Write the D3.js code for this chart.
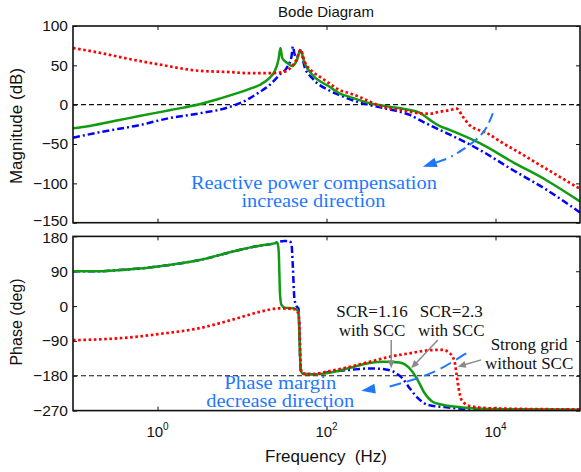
<!DOCTYPE html>
<html>
<head>
<meta charset="utf-8">
<script src="https://cdn.jsdelivr.net/npm/d3@7"></script>
<style>
  body { margin: 0; background: #fff; }
  svg { display: block; }
</style>
</head>
<body>
<div id="chart"></div>
<script>
// magnitude (dB), frequency in Hz
const magFreqStrong = [0.1, 0.206, 0.466, 1.06, 3.14, 7.1, 12.3, 21.2, 32, 38.5, 44, 49.3, 55, 68, 82, 108, 142, 187, 245, 323, 424, 556, 731, 963, 1260, 1660, 2170, 2860, 3470, 4090, 4950, 7900, 12100, 19200, 30400, 43600, 69600, 1e5];
const magStrong = [72, 66, 58, 51, 43, 41.5, 40, 40, 42, 48, 57, 70, 55, 42, 36, 27, 18.7, 14.5, 10, 4, -1.3, -4.6, -6.7, -9, -11, -11.5, -9, -7, -5, -15, -26, -36, -48.6, -61, -74, -84, -97, -107];

const magFreqScr23 = [0.1, 0.157, 0.355, 0.61, 1.39, 3.14, 5.4, 12.3, 16.1, 21.2, 24.2, 27, 28.5, 30, 34.4, 39.5, 44, 49.3, 55, 68, 108, 142, 187, 323, 556, 963, 1260, 1660, 2170, 2860, 6520, 16000, 40000, 1e5];
const magScr23 = [-30, -27, -19.5, -14.5, -7, 0.5, 7.6, 20, 25, 34, 42, 57, 72, 59, 53, 49, 55, 69, 53, 38, 23, 14.5, 10, 2, -2.5, -6.7, -10, -19, -27, -32, -49, -73, -96, -123];

const magFreqScr116 = [0.1, 0.206, 0.61, 1.39, 3.14, 7.1, 12.3, 16.1, 21.2, 27.8, 34.4, 38.5, 40, 41.7, 44.1, 49.3, 55, 68, 108, 142, 187, 323, 556, 731, 963, 1260, 1660, 2630, 6520, 16000, 40000, 1e5];
const magScr116 = [-42, -35, -26, -17, -11, -3, 8, 16, 25, 38, 48, 61, 74, 65, 59, 69, 48, 33.5, 18, 12.3, 7, -0.4, -6, -9, -13, -19.4, -26, -36, -57.5, -83, -108, -137];

// phase (deg)
const phFreqStrong = [0.1, 0.206, 0.466, 1.06, 3.14, 9.3, 16.1, 27.8, 41.7, 46.6, 48, 49.3, 51, 55, 68, 108, 187, 323, 556, 963, 1660, 2360, 2860, 3280, 3470, 3660, 3980, 4950, 8580, 1e5];
const phStrong = [-88, -86, -81, -72, -57, -30, -15, -6, -8, -20, -60, -150, -172, -176, -176, -168, -157, -144, -131, -122, -114, -113, -121, -144, -178, -212, -243, -258, -264, -267];

const phFreqScr23 = [0.1, 0.206, 0.355, 0.61, 1.06, 1.82, 3.14, 9.3, 16.1, 24.2, 26.3, 27.2, 28.2, 29.3, 32, 41.7, 46.6, 48, 49.5, 52, 68, 108, 187, 323, 484, 731, 1000, 1200, 1440, 1800, 2360, 4090, 8580, 1e5];
const phScr23 = [90, 90, 93, 97, 103, 110, 119, 145, 156, 162, 164, 140, 30, 3, -4, -6, -15, -90, -165, -174, -176, -172, -160, -147, -144, -146, -165, -191, -224, -247, -255, -262, -266, -268];

const phFreqScr116 = [0.1, 0.206, 0.355, 0.61, 1.06, 1.82, 3.14, 9.3, 16.1, 24.2, 26.3, 31.8, 36.4, 38.5, 40, 41.7, 44.1, 46.6, 48, 49.5, 52, 68, 108, 187, 323, 484, 628, 794, 963, 1200, 1570, 2490, 4950, 1e5];
const phScr116 = [90, 90, 93, 97, 103, 110, 119, 145, 156, 162, 165, 168, 168, 160, 100, 20, 0, -6, -80, -165, -174, -176, -170, -165, -161, -163, -170, -187, -212, -237, -255, -261, -266, -268];

const magTicks = [100, 50, 0, -50, -100, -150];
const phTicks = [180, 90, 0, -90, -180, -270];
const freqTicks = [1, 100, 10000];
const freqExp = ["0", "2", "4"];

// annotations, in data units
const magArc = [[9290, -10.9], [7770, -32], [5910, -45], [4100, -57.6], [2990, -66]];
const magArrow = [[2610, -69], [1380, -79]];
const phArc = [[4500, -122], [3125, -143.6], [1987, -169.5], [1050, -190.9], [557, -208]];
const phArrow = [[557, -208], [258, -218.5]];
const grayArrows = [
  [[583, -87.6], [583, -160.7]],
  [[2075, -87.6], [1005, -160.7]],
  [[6770, -139], [3580, -156.5]]
];
const labels = [
  {f: 345, v: -27.4, t: "SCR=1.16"}, {f: 345, v: -77, t: "with SCC"},
  {f: 2990, v: -27.4, t: "SCR=2.3"}, {f: 2990, v: -77, t: "with SCC"},
  {f: 25000, v: -113.4, t: "Strong grid"}, {f: 25000, v: -163, t: "without SCC"}
];

const width = 581, height = 472;
const svg = d3.select("#chart").append("svg")
  .attr("width", width).attr("height", height)
  .attr("viewBox", [0, 0, width, height]);
svg.append("rect").attr("width", width).attr("height", height).attr("fill", "#fff");

const x = d3.scaleLog().domain([0.1, 1e5]).range([73, 580]);
const yMag = d3.scaleLinear().domain([-150, 100]).range([222.7, 26]);
const yPh = d3.scaleLinear().domain([-270, 180]).range([410.6, 236.4]);

const green = "#109c10", annBlue = "#1e78ff", gray = "#8a8a8a";
const sans = "'Liberation Sans', Arial, sans-serif";
const serif = "'Liberation Serif', 'Times New Roman', serif";

function panel(y, ticks) {
  const g = svg.append("g");
  const [y0, y1] = y.range();
  g.append("g").attr("transform", `translate(${x.range()[0]},0)`)
    .call(d3.axisLeft(y).tickValues(ticks).tickSize(-4).tickPadding(5))
    .call(a => a.select(".domain").remove())
    .call(a => a.selectAll("text").attr("font-size", 15.5).attr("font-family", sans).attr("fill", "#111"));
  g.append("g").attr("transform", `translate(${x.range()[1]},0)`)
    .call(d3.axisRight(y).tickValues(ticks).tickSize(-4).tickFormat(""))
    .call(a => a.select(".domain").remove());
  g.append("g").attr("transform", `translate(0,${y0})`)
    .call(d3.axisBottom(x).tickValues(freqTicks).tickSize(-4).tickFormat(""))
    .call(a => a.select(".domain").remove());
  g.append("g").attr("transform", `translate(0,${y1})`)
    .call(d3.axisTop(x).tickValues(freqTicks).tickSize(-4).tickFormat(""))
    .call(a => a.select(".domain").remove());
  g.selectAll(".tick line").attr("stroke", "#111").attr("stroke-width", 1);
  return g;
}

function drawLine(g, y, freqs, vals, color, dash, w) {
  const line = d3.line().x(d => x(d[0])).y(d => y(d[1])).curve(d3.curveMonotoneX);
  g.append("path")
    .attr("d", line(d3.zip(freqs, vals)))
    .attr("fill", "none")
    .attr("stroke", color)
    .attr("stroke-width", w)
    .attr("stroke-dasharray", dash);
}

function arrowHead(g, p0, p1, color, len, half) {
  const dx = p1[0] - p0[0], dy = p1[1] - p0[1];
  const L = Math.hypot(dx, dy), ux = dx / L, uy = dy / L;
  const bx = p1[0] - ux * len, by = p1[1] - uy * len;
  g.append("path")
    .attr("d", `M${p1[0]},${p1[1]}L${bx - uy * half},${by + ux * half}L${bx + uy * half},${by - ux * half}Z`)
    .attr("fill", color);
}

// magnitude
const gMag = panel(yMag, magTicks);
gMag.append("line").attr("x1", x(0.1)).attr("x2", x(1e5)).attr("y1", yMag(0)).attr("y2", yMag(0))
  .attr("stroke", "#111").attr("stroke-width", 1.2).attr("stroke-dasharray", "5,3");
drawLine(gMag, yMag, magFreqScr116, magScr116, "#0000ff", "7,3,2,3", 2.5);
drawLine(gMag, yMag, magFreqScr23, magScr23, green, null, 2.5);
drawLine(gMag, yMag, magFreqStrong, magStrong, "#ff0000", "2.6,2.6", 2.7);

// phase
const gPh = panel(yPh, phTicks);
gPh.append("line").attr("x1", x(0.1)).attr("x2", x(1e5)).attr("y1", yPh(-180)).attr("y2", yPh(-180))
  .attr("stroke", "#111").attr("stroke-width", 1.2).attr("stroke-dasharray", "5,3");
drawLine(gPh, yPh, phFreqScr116, phScr116, "#0000ff", "7,3,2,3", 2.5);
drawLine(gPh, yPh, phFreqScr23, phScr23, green, null, 2.5);
drawLine(gPh, yPh, phFreqStrong, phStrong, "#ff0000", "2.6,2.6", 2.7);

// keep the lowest magnitude label and the top phase label apart
gMag.selectAll(".tick text").filter(d => d === -150).attr("dy", "0.2em");
gPh.selectAll(".tick text").filter(d => d === 180).attr("dy", "0.42em");

// frames
[yMag, yPh].forEach(y => {
  svg.append("rect")
    .attr("x", x.range()[0]).attr("y", y.range()[1])
    .attr("width", x.range()[1] - x.range()[0]).attr("height", y.range()[0] - y.range()[1])
    .attr("fill", "none").attr("stroke", "#111").attr("stroke-width", 1.6);
});

// x tick labels 10^n
freqTicks.forEach((f, i) => {
  const t = svg.append("text")
    .attr("x", x(f)).attr("y", yPh.range()[0] + 26)
    .attr("text-anchor", "middle")
    .attr("font-family", sans).attr("font-size", 15).attr("fill", "#111");
  t.append("tspan").text("10");
  t.append("tspan").attr("dy", -7).attr("font-size", 10).text(freqExp[i]);
});

// titles
svg.append("text").attr("x", 326).attr("y", 17).attr("text-anchor", "middle")
  .attr("font-family", sans).attr("font-size", 15).attr("fill", "#111").text("Bode Diagram");
svg.append("text").attr("x", 326).attr("y", 462).attr("text-anchor", "middle")
  .attr("font-family", sans).attr("font-size", 17).attr("fill", "#111")
  .style("white-space", "pre").text("Frequency  (Hz)");
svg.append("text").attr("transform", "translate(22,126) rotate(-90)").attr("text-anchor", "middle")
  .attr("font-family", sans).attr("font-size", 17).attr("fill", "#111").text("Magnitude (dB)");
svg.append("text").attr("transform", "translate(22,322) rotate(-90)").attr("text-anchor", "middle")
  .attr("font-family", sans).attr("font-size", 16).attr("fill", "#111").text("Phase (deg)");

function annText(px, py, str, len) {
  svg.append("text").attr("x", px).attr("y", py).attr("text-anchor", "middle")
    .attr("font-family", serif).attr("font-size", 18.5).attr("fill", annBlue)
    .attr("textLength", len).attr("lengthAdjust", "spacingAndGlyphs")
    .text(str);
}

// annotation: reactive power compensation
const annLine = (y) => d3.line().x(d => x(d[0])).y(d => y(d[1])).curve(d3.curveBasis);
svg.append("path").attr("d", annLine(yMag)(magArc))
  .attr("fill", "none").attr("stroke", annBlue).attr("stroke-width", 2).attr("stroke-dasharray", "10,5");
const mA = magArrow.map(d => [x(d[0]), yMag(d[1])]);
svg.append("line").attr("x1", mA[0][0]).attr("y1", mA[0][1]).attr("x2", mA[1][0] + 8).attr("y2", mA[1][1] - 2.5)
  .attr("stroke", annBlue).attr("stroke-width", 2);
arrowHead(svg, mA[0], mA[1], annBlue, 14, 5);
annText(x(71), yMag(-107.5), "Reactive power compensation", 246);
annText(x(70), yMag(-130.5), "increase direction", 144);

// annotation: phase margin
svg.append("path").attr("d", annLine(yPh)(phArc))
  .attr("fill", "none").attr("stroke", annBlue).attr("stroke-width", 2).attr("stroke-dasharray", "12,6");
const pA = phArrow.map(d => [x(d[0]), yPh(d[1])]);
arrowHead(svg, pA[0], pA[1], annBlue, 14, 5);
annText(x(28.4), yPh(-213), "Phase margin", 112);
annText(x(28.4), yPh(-260.5), "decrease direction", 148);

// gray pointers and SCR labels
grayArrows.forEach(a => {
  const p = a.map(d => [x(d[0]), yPh(d[1])]);
  const dx = p[1][0] - p[0][0], dy = p[1][1] - p[0][1], L = Math.hypot(dx, dy);
  svg.append("line").attr("x1", p[0][0]).attr("y1", p[0][1])
    .attr("x2", p[1][0] - dx / L * 6).attr("y2", p[1][1] - dy / L * 6)
    .attr("stroke", gray).attr("stroke-width", 1.5);
  arrowHead(svg, p[0], p[1], gray, 8, 3.5);
});
labels.forEach(d => {
  svg.append("text").attr("x", x(d.f)).attr("y", yPh(d.v)).attr("text-anchor", "middle")
    .attr("font-family", serif).attr("font-size", 17).attr("fill", "#111").text(d.t);
});
</script>
</body>
</html>
